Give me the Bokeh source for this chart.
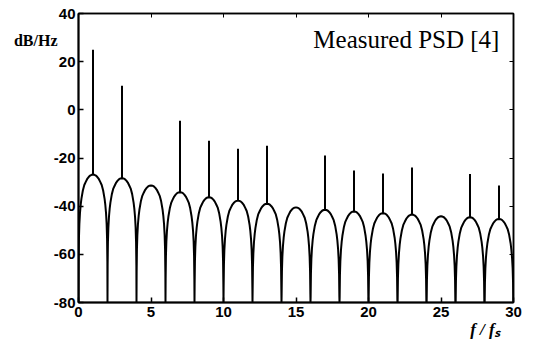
from bokeh.plotting import figure
from bokeh.models import Range1d, LinearAxis, FixedTicker, Label
from bokeh.embed import file_html
from bokeh.resources import INLINE

# ---- data ----
arch_centers = [1, 3, 5, 7, 9, 11, 13, 15, 17, 19, 21, 23, 25, 27, 29]
arch_peaks = [-26.9, -28.4, -31.4, -34.2, -36.3, -37.7, -39.0, -40.5,
              -41.5, -42.2, -42.9, -43.5, -44.2, -44.6, -45.3]

spike_x = [1, 3, 7, 9, 11, 13, 17, 19, 21, 23, 27, 29]
spike_top = [24.9, 10.0, -4.5, -12.8, -16.2, -14.9, -19.0, -25.2,
             -26.4, -23.9, -26.6, -31.4]

lobe_offset = [0.01, 0.03, 0.06, 0.10, 0.15, 0.20, 0.30, 0.40, 0.50,
               0.60, 0.70, 0.80, 0.90, 1.00]
lobe_drop = [-36.0, -26.5, -20.5, -16.1, -12.6, -10.1, -6.6, -4.3, -3.0,
             -1.8, -1.0, -0.4, -0.1, 0.0]
floor_db = -80

x_ticks = [0, 5, 10, 15, 20, 25, 30]
x_tick_labels = ["0", "5", "10", "15", "20", "25", "30"]
y_ticks = [-80, -60, -40, -20, 0, 20, 40]
y_tick_labels = ["-80", "-60", "-40", "-20", "0", "20", "40"]

y_title = "dB/Hz"
x_title = "f / f\u209b"
title_text = "Measured PSD [4]"

# ---- build the lobe curve ----
ax, ay = [], []
for c, pk in zip(arch_centers, arch_peaks):
    left = c - 1
    ax.append(left); ay.append(floor_db)
    for o, d in zip(lobe_offset, lobe_drop):
        ax.append(left + o); ay.append(pk + d)
    for o, d in zip(reversed(lobe_offset[:-1]), reversed(lobe_drop[:-1])):
        ax.append(c + 1 - o); ay.append(pk + d)
ax.append(arch_centers[-1] + 1); ay.append(floor_db)

peak_of = dict(zip(arch_centers, arch_peaks))
spike_base = [peak_of[x] for x in spike_x]

p = figure(width=533, height=345, output_backend="svg", toolbar_location=None,
           x_range=Range1d(0, 30), y_range=Range1d(-80, 40),
           min_border_left=78, min_border_right=20, min_border_top=13,
           min_border_bottom=43, background_fill_color="white",
           border_fill_color="white")
p.grid.visible = False
p.outline_line_color = "black"
p.outline_line_width = 1.5

p.line(ax, ay, line_color="black", line_width=2)
p.segment(x0=spike_x, y0=spike_base, x1=spike_x, y1=spike_top,
          line_color="black", line_width=2)

for axis, ticks, labels in ((p.xaxis[0], x_ticks, x_tick_labels),
                            (p.yaxis[0], y_ticks, y_tick_labels)):
    axis.ticker = FixedTicker(ticks=ticks)
    axis.major_label_overrides = {t: s for t, s in zip(ticks, labels)}
    axis.major_tick_in = 5
    axis.major_tick_out = 0
    axis.minor_tick_line_color = None
    axis.axis_line_width = 2
    axis.major_tick_line_width = 1.5
    axis.major_label_text_font = "Liberation Sans"
    axis.major_label_text_font_style = "bold"
    axis.major_label_text_font_size = "15px"
    axis.major_label_text_color = "black"
p.xaxis.major_label_standoff = 4
p.yaxis.major_label_standoff = 3

top = LinearAxis(ticker=FixedTicker(ticks=x_ticks), major_label_text_font_size="1px",
                 major_label_text_color=None,
                 major_tick_in=4, major_tick_out=0, minor_tick_line_color=None,
                 axis_line_width=1.5, major_label_standoff=0)
right = LinearAxis(ticker=FixedTicker(ticks=y_ticks), major_label_text_font_size="1px",
                   major_label_text_color=None,
                   major_tick_in=4, major_tick_out=0, minor_tick_line_color=None,
                   axis_line_width=1.5, major_label_standoff=0)
p.add_layout(top, "above")
p.add_layout(right, "right")

# unit label on the left, placed with an extra label-only axis
y_title_pos = 28.8
ylab = LinearAxis(ticker=FixedTicker(ticks=[y_title_pos]),
                  major_label_overrides={y_title_pos: y_title},
                  major_tick_line_color=None, minor_tick_line_color=None,
                  axis_line_color=None, major_label_standoff=-13,
                  major_label_text_font="Liberation Serif",
                  major_label_text_font_style="bold",
                  major_label_text_font_size="16px",
                  major_label_text_color="black")
p.add_layout(ylab, "left")

# frequency label below the x tick labels
x_title_pos = 28.03
xlab = LinearAxis(ticker=FixedTicker(ticks=[x_title_pos]),
                  major_label_overrides={x_title_pos: x_title},
                  major_tick_line_color=None, minor_tick_line_color=None,
                  axis_line_color=None, major_label_standoff=-6,
                  major_label_text_font="Liberation Serif",
                  major_label_text_font_style="bold italic",
                  major_label_text_font_size="17px",
                  major_label_text_color="black")
p.add_layout(xlab, "below")

p.add_layout(Label(x=29.03, y=29.2, text=title_text,
                   text_font="Liberation Serif", text_font_size="25px",
                   text_align="right", text_baseline="alphabetic", text_color="black"))

open("out.html", "w").write(file_html(p, INLINE))
